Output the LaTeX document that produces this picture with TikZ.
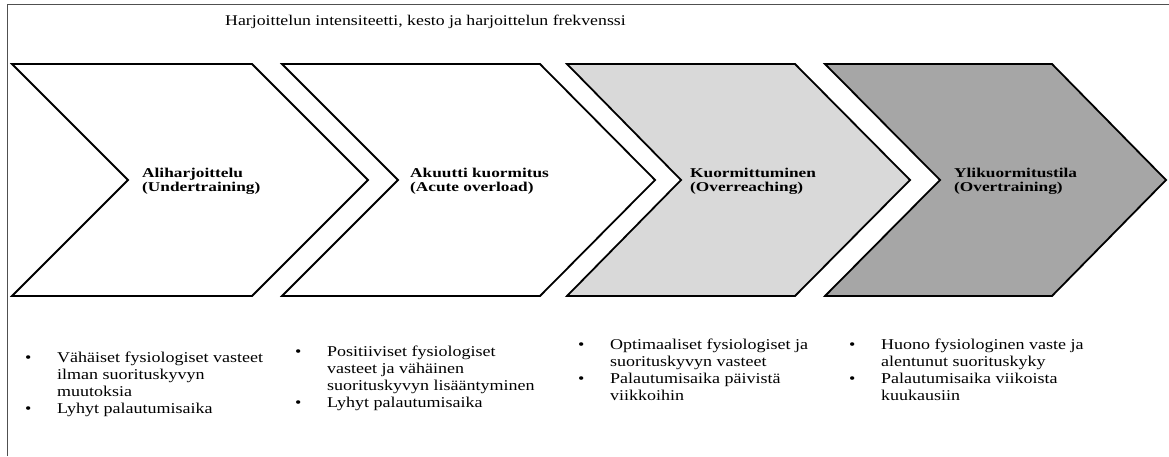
\documentclass[tikz,border=0pt]{standalone}
\usepackage{fontspec}
\setmainfont{Liberation Serif}[FakeStretch=1.2]
\newfontfamily\labfont{Liberation Serif}[FakeStretch=1.28]
\usepackage{array}
\definecolor{lightfill}{HTML}{D9D9D9}
\definecolor{darkfill}{HTML}{A6A6A6}
\definecolor{framecol}{HTML}{505050}
\begin{document}
\begin{tikzpicture}[x=1pt,y=-1pt,
  chev/.style={draw=black,line width=1.8pt,line join=miter},
  lab/.style={anchor=base west,inner sep=0pt,font=\labfont\fontsize{13.5}{14.5}\selectfont\bfseries},
  col/.style={anchor=base west,inner sep=0pt,font=\fontsize{15}{17.2}\selectfont},
  ttl/.style={anchor=base west,inner sep=0pt,font=\fontsize{14.8}{17}\selectfont}]
\useasboundingbox (0,0) rectangle (1169,456);
\fill[white] (0,0) rectangle (1169,456);
% frame
\draw[framecol,line width=1pt] (7.5,456) -- (7.5,4.5) -- (1169,4.5);
% title
\node[ttl] (title) at (225,25) {Harjoittelun intensiteetti, kesto ja harjoittelun frekvenssi};
% chevrons
\draw[chev,fill=white] (12,64) -- (252,64) -- (368,180) -- (252,296) -- (12,296) -- (128,180) -- cycle;
\draw[chev,fill=white] (282,64) -- (540,64) -- (655,180) -- (540,296) -- (282,296) -- (398,180) -- cycle;
\draw[chev,fill=lightfill] (567,64) -- (795,64) -- (910,180) -- (795,296) -- (567,296) -- (681,180) -- cycle;
\draw[chev,fill=darkfill] (825,64) -- (1052,64) -- (1166,180) -- (1052,296) -- (825,296) -- (940,180) -- cycle;
% chevron labels
\node[lab] (l1) at (142,177) {\begin{tabular}[t]{@{}l@{}}Aliharjoittelu\\(Undertraining)\end{tabular}};
\node[lab] (l2) at (410,177) {\begin{tabular}[t]{@{}l@{}}Akuutti kuormitus\\(Acute overload)\end{tabular}};
\node[lab] (l3) at (690,177) {\begin{tabular}[t]{@{}l@{}}Kuormittuminen\\(Overreaching)\end{tabular}};
\node[lab] (l4) at (954,177) {\begin{tabular}[t]{@{}l@{}}Ylikuormitustila\\(Overtraining)\end{tabular}};
% bullet lists
\node[col] (c1) at (25,362) {\begin{tabular}[t]{@{}p{32pt}@{}l@{}}
\textbullet & Vähäiset fysiologiset vasteet\\
 & ilman suorituskyvyn\\
 & muutoksia\\
\textbullet & Lyhyt palautumisaika\end{tabular}};
\node[col] (c2) at (295,356) {\begin{tabular}[t]{@{}p{32pt}@{}l@{}}
\textbullet & Positiiviset fysiologiset\\
 & vasteet ja vähäinen\\
 & suorituskyvyn lisääntyminen\\
\textbullet & Lyhyt palautumisaika\end{tabular}};
\node[col] (c3) at (578,349) {\begin{tabular}[t]{@{}p{32pt}@{}l@{}}
\textbullet & Optimaaliset fysiologiset ja\\
 & suorituskyvyn vasteet\\
\textbullet & Palautumisaika päivistä\\
 & viikkoihin\end{tabular}};
\node[col] (c4) at (849,349) {\begin{tabular}[t]{@{}p{32pt}@{}l@{}}
\textbullet & Huono fysiologinen vaste ja\\
 & alentunut suorituskyky\\
\textbullet & Palautumisaika viikoista\\
 & kuukausiin\end{tabular}};
\end{tikzpicture}
\end{document}
